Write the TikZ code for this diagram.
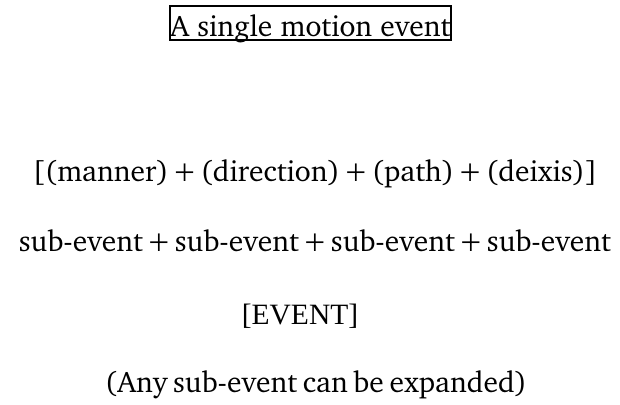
\documentclass[tikz,border=0pt]{standalone}
\usepackage[T1]{fontenc}
\usepackage{fontspec}
\newfontfamily\timesfont{Liberation Serif}
\newcommand\chfont{\fontencoding{T1}\fontfamily{bch}\selectfont}
\newcommand\pls{\kern-2pt+\kern-2pt}
\begin{document}
\begin{tikzpicture}[x=1pt,y=-1pt,
  every node/.style={inner sep=0pt},
  titletextstyle/.style={font={\fontsize{29.5}{35}\chfont}, anchor=base},
  chtext/.style={font={\fontsize{29.5}{35}\chfont\spaceskip=5.7pt\relax}, anchor=base},
  tmtext/.style={font={\fontsize{29.5}{35}\timesfont}, anchor=base},
  framebox/.style={draw, line width=2pt, minimum width=281pt, minimum height=34pt}]
\useasboundingbox (0,0) rectangle (620,404);
\node[framebox] (title) at (310.5,23) {};
\node[titletextstyle] (titletext) at (310.5,37) {A single motion event};
\node[chtext] (components) at (315,181) {[(manner) \pls{} (direction) \pls{} (path) \pls{} (deixis)]};
\node[chtext] (subevents) at (315,251) {sub-event \pls{} sub-event \pls{} sub-event \pls{} sub-event};
\node[tmtext] (event) at (300,324) {[EVENT]};
\node[chtext] (note) at (316,392) {(Any sub-event can be expanded)};
\end{tikzpicture}
\end{document}
